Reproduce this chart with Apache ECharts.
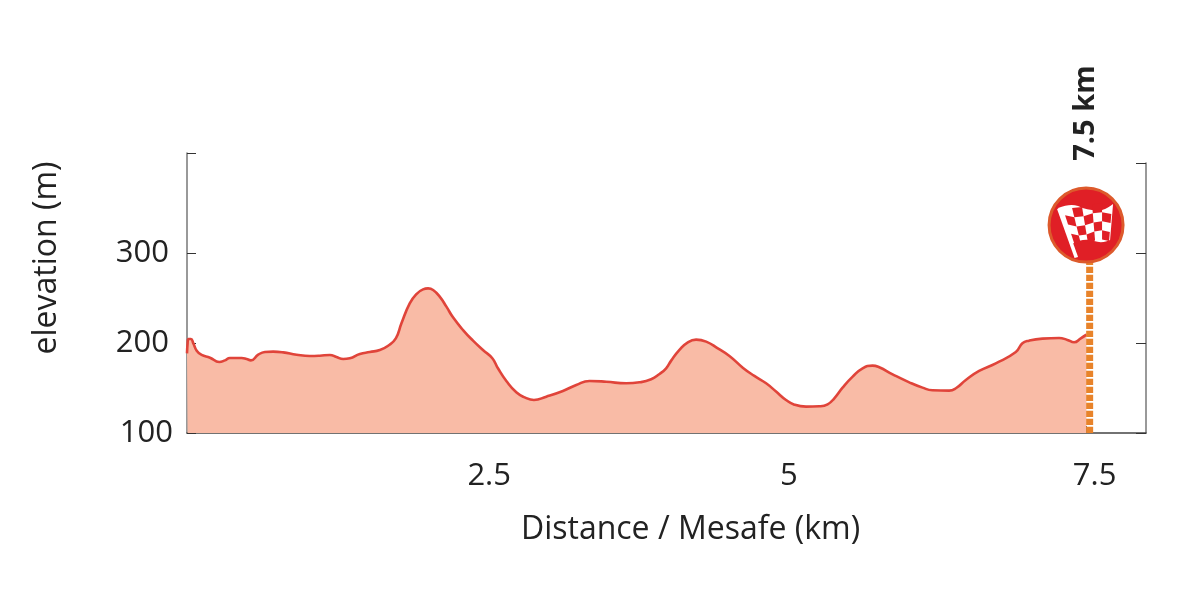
<!DOCTYPE html>
<html>
<head>
<meta charset="utf-8">
<style>html,body{margin:0;padding:0;background:#fff}#c{width:1200px;height:600px}</style>
<script src="https://cdn.jsdelivr.net/npm/echarts@6/dist/echarts.min.js"></script>
</head>
<body>
<div id="c"></div>
<script>
const distanceKm = [0,0.005,0.011,0.033,0.053,0.081,0.122,0.192,0.269,0.317,0.358,0.456,0.497,0.533,0.594,0.65,0.719,0.803,0.914,1.025,1.108,1.192,1.247,1.303,1.358,1.442,1.525,1.608,1.678,1.742,1.789,1.858,1.914,1.969,2.011,2.053,2.108,2.164,2.219,2.303,2.386,2.469,2.547,2.594,2.664,2.747,2.817,2.894,2.997,3.136,3.247,3.358,3.497,3.664,3.775,3.872,3.942,3.997,4.039,4.108,4.178,4.247,4.331,4.428,4.525,4.636,4.733,4.831,4.914,4.997,5.067,5.164,5.275,5.344,5.4,5.469,5.553,5.636,5.719,5.775,5.886,6.025,6.136,6.219,6.358,6.414,6.497,6.608,6.747,6.914,6.969,7.025,7.136,7.275,7.344,7.4,7.456,7.503];
const elevationM = [188.5,199.6,204.4,204.4,199.6,191.5,186.7,183.7,178.9,180.7,183.3,183.3,182.2,180.7,187,190,190.4,189.6,187,185.6,185.9,186.7,184.4,182.2,183,187.8,190,192.2,197,205.2,221.9,244,254.4,259.6,260.7,258.9,251.5,240.4,228.5,214.4,202.6,192.2,183,171.9,157.8,145.2,139.6,136.7,140.4,146.7,153.3,157.8,157,155.2,156.3,159.7,165.6,171.9,180.4,192.3,200.8,203.7,201.5,194.1,185.6,172.6,163.4,155.2,146,136.7,131.5,129.3,129.7,131.9,138.6,150.4,162.6,171.9,174.9,173,165.2,156.3,150.4,147.5,147.1,149.7,158.9,168.9,177.4,190,199.7,202.6,204.9,205.6,203.4,200.8,205.2,209.3];
const xTickValues = [2.5,5,7.5];
const yLabelValues = [100,200,300];
const yLeftTicks = [100,200,300,411];
const finishPoleKm = [7.53,7.53];
const finishPoleElev = [100,290];
const finishIconKm = 7.5;
const finishIconElev = 331;
const finishLabel = '7.5 km';
const xTitle = 'Distance / Mesafe (km)';
const yTitle = 'elevation (m)';

const FONT = '"Open Sans", sans-serif';
const TXT = '#222222';

function checks() {
  const TL=[-24,-19],TR=[26,-20],BR=[23,16],BL=[-12,18];
  const pt=(u,v)=>{
    const x=(TL[0]*(1-u)+TR[0]*u)*(1-v)+(BL[0]*(1-u)+BR[0]*u)*v;
    const y=(TL[1]*(1-u)+TR[1]*u)*(1-v)+(BL[1]*(1-u)+BR[1]*u)*v;
    return [x,y+2.2*Math.sin(u*6.28)];
  };
  const out=[];
  for(let r=0;r<4;r++)for(let c=0;c<5;c++){
    if((r+c)%2===1){
      out.push({type:'polygon',shape:{points:[pt(c/5,r/4),pt((c+1)/5,r/4),pt((c+1)/5,(r+1)/4),pt(c/5,(r+1)/4)]},style:{fill:'#e01f26'}});
    }
  }
  return out;
}

function renderFinish(params, api) {
  const p = api.coord([api.value(0), api.value(1)]);
  return {
    type:'group', x:p[0], y:p[1],
    children:[
      {type:'circle',shape:{cx:0,cy:0,r:37},style:{fill:'#e01f26',stroke:'#dd5a2c',lineWidth:3}},
      {type:'path',shape:{pathData:'M-28 -17 C-20 -20 -14 -21 -8 -19 C0 -15 8 -14 16 -15 C20 -16 24 -19 27 -21 L24 15 C20 17 14 18 8 16 C2 14 -6 14 -14 19 Z',x:-28,y:-22,width:55,height:42},style:{fill:'#ffffff'}},
      {type:'polygon',shape:{points:[[-29,-16],[-25.5,-17],[-8,32],[-11.5,33]]},style:{fill:'#ffffff'}},
      ...checks(),
      {type:'text',x:0,y:-112,rotation:Math.PI/2,style:{text:finishLabel,x:0,y:0,align:'center',verticalAlign:'middle',fill:TXT,font:'bold 29px '+FONT}}
    ]
  };
}

const chart = echarts.init(document.getElementById('c'), null, {renderer:'canvas'});
chart.setOption({
  animation:false,
  backgroundColor:'#ffffff',
  grid:[
    {left:187,right:54,top:153,bottom:167,containLabel:false},
    {left:187,right:54,top:163,bottom:167,containLabel:false}
  ],
  xAxis:[
    {type:'value',gridIndex:0,min:0,max:8,
     axisLine:{show:true,onZero:false,lineStyle:{color:'#444444',width:1.5}},
     splitLine:{show:false},
     axisTick:{show:true,inside:true,length:7,customValues:xTickValues,lineStyle:{color:'#444444',width:1}},
     axisLabel:{show:true,customValues:xTickValues,margin:28,color:TXT,fontFamily:FONT,fontSize:31,
       formatter:v=>v===7.5?'{e|7.5}':'{m|'+v+'}',
       rich:{e:{padding:[0,0,0,17],color:TXT,fontFamily:FONT,fontSize:31},
             m:{padding:[0,0,0,5],color:TXT,fontFamily:FONT,fontSize:31}}},
     name:xTitle,nameLocation:'middle',nameGap:81,
     nameTextStyle:{color:TXT,fontFamily:FONT,fontSize:32,padding:[0,0,0,48]}},
    {type:'value',gridIndex:1,min:0,max:8,show:false}
  ],
  yAxis:[
    {type:'value',gridIndex:0,min:100,max:411.1,
     axisLine:{show:true,onZero:false,lineStyle:{color:'#777777',width:1.5}},
     splitLine:{show:false},
     axisTick:{show:true,inside:true,length:9,customValues:yLeftTicks,lineStyle:{color:'#333333',width:1}},
     axisLabel:{show:true,customValues:yLabelValues,margin:14,color:TXT,fontFamily:FONT,fontSize:31,
       formatter:v=>v===100?String(v):'{h|'+v+'}',
       rich:{h:{padding:[0,4,0,0],color:TXT,fontFamily:FONT,fontSize:31}}},
     name:yTitle,nameLocation:'middle',nameGap:124,
     nameTextStyle:{color:TXT,fontFamily:FONT,fontSize:32,padding:[0,0,0,70]}},
    {type:'value',gridIndex:1,position:'right',min:100,max:400,interval:100,
     axisLine:{show:true,onZero:false,lineStyle:{color:'#777777',width:1.5}},
     splitLine:{show:false},
     axisTick:{show:true,inside:true,length:10,lineStyle:{color:'#333333',width:1}},
     axisLabel:{show:false}}
  ],
  series:[
    {type:'line',xAxisIndex:0,yAxisIndex:0,smooth:0.5,showSymbol:false,symbol:'none',z:2,
     data:distanceKm.map((d,i)=>[d,elevationM[i]]),
     lineStyle:{color:'#e0443a',width:2.6},
     areaStyle:{color:'#f9bba6',opacity:1}},
    {type:'line',xAxisIndex:0,yAxisIndex:0,showSymbol:false,symbol:'none',z:3,
     data:finishPoleKm.map((d,i)=>[d,finishPoleElev[i]]),
     lineStyle:{color:'#e8832a',width:7,type:[6.3,1.7]}},
    {type:'custom',xAxisIndex:0,yAxisIndex:0,z:4,renderItem:renderFinish,
     data:[[finishIconKm,finishIconElev]],silent:true}
  ]
});
</script>
</body>
</html>
